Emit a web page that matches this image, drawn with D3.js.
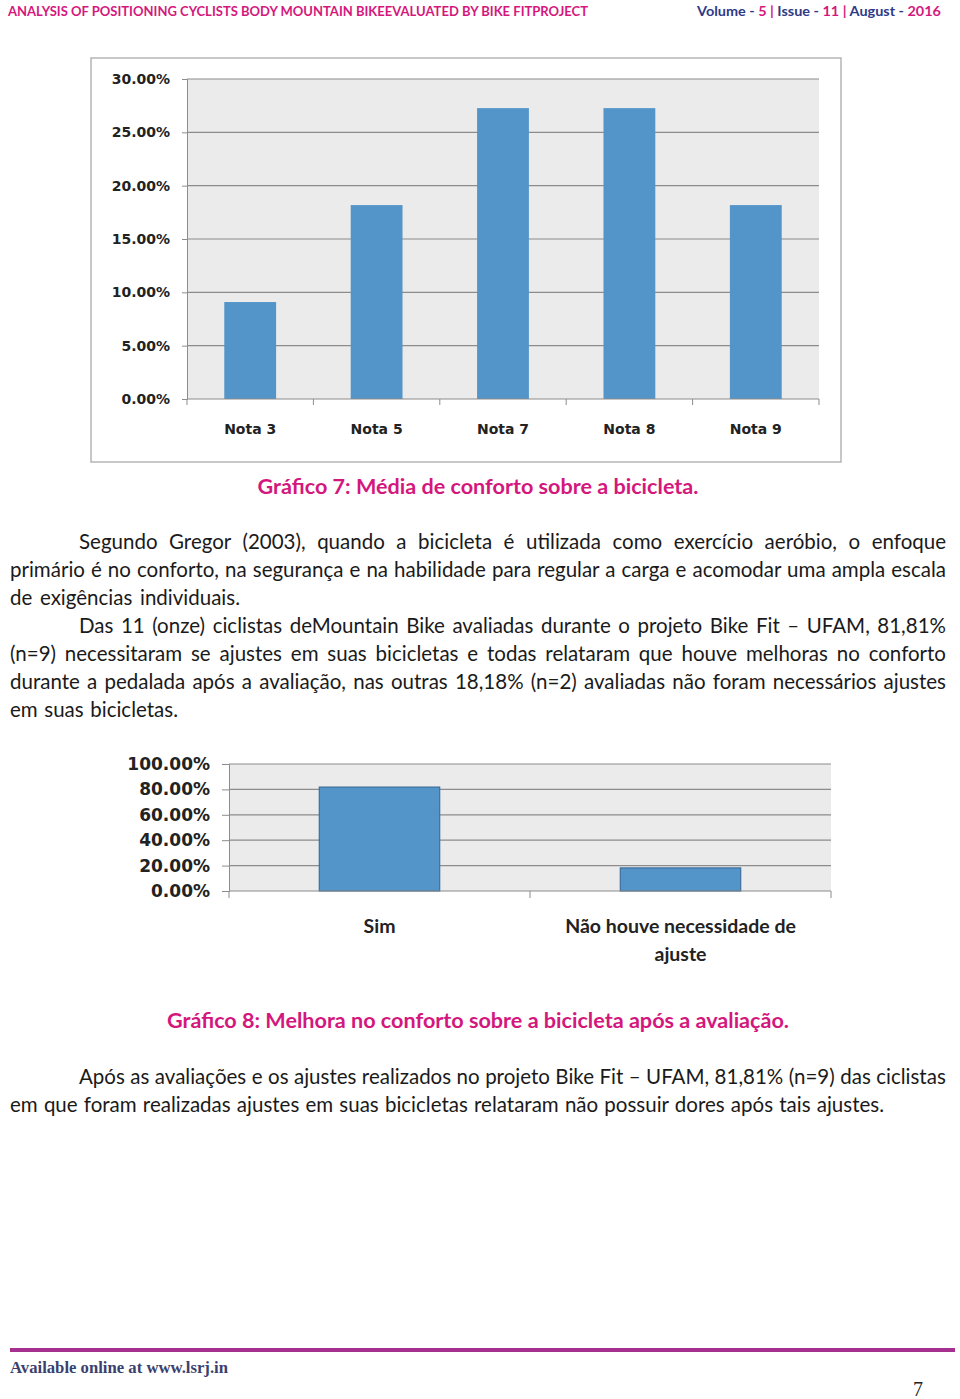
<!DOCTYPE html>
<html>
<head>
<meta charset="utf-8">
<script src="https://cdn.jsdelivr.net/npm/d3@7"></script>
<style>
  body { margin: 0; background: #fff; }
  svg { display: block; }
</style>
</head>
<body>
<svg width="960" height="1399"></svg>
<script>
// chart 7 data
const notaCats = ["Nota 3", "Nota 5", "Nota 7", "Nota 8", "Nota 9"]
const notaVals = [9.09, 18.18, 27.27, 27.27, 18.18]
const notaTicks = [0, 5, 10, 15, 20, 25, 30]

// chart 8 data
const ajusteCats = ["Sim", "Não houve necessidade de ajuste"]
const ajusteVals = [81.81, 18.18]
const ajusteTicks = [0, 20, 40, 60, 80, 100]

const para1 = [
  "Segundo Gregor (2003), quando a bicicleta é utilizada como exercício aeróbio, o enfoque",
  "primário é no conforto, na segurança e na habilidade para regular a carga e acomodar uma ampla escala",
  "de exigências individuais."
]
const para2 = [
  "Das 11 (onze) ciclistas deMountain Bike avaliadas durante o projeto Bike Fit – UFAM, 81,81%",
  "(n=9) necessitaram se ajustes em suas bicicletas e todas relataram que houve melhoras no conforto",
  "durante a pedalada após a avaliação, nas outras 18,18% (n=2) avaliadas não foram necessários ajustes",
  "em suas bicicletas."
]
const para3 = [
  "Após as avaliações e os ajustes realizados no projeto Bike Fit – UFAM,  81,81% (n=9) das ciclistas",
  "em que foram realizadas ajustes em suas bicicletas relataram não possuir dores após tais ajustes."
]

const magenta = "#d4177d"
const navy = "#2e3a87"
const barColor = "#5495c9"
const bodyFont = "Lato, 'Open Sans', sans-serif"
const tahoma = "'DejaVu Sans', Verdana, sans-serif"

var svg = d3.select('svg')
svg.append('rect').attr('width', 960).attr('height', 1399).attr('fill', '#fff')

// fit a text element to a given width
const fitText = (sel, target) => {
  const w = sel.node().getComputedTextLength()
  if (w > target) {
    sel.attr('textLength', target).attr('lengthAdjust', 'spacingAndGlyphs')
  } else {
    const spaces = (sel.text().match(/ /g) || []).length
    if (spaces) sel.attr('word-spacing', (target - w) / spaces)
  }
}

// header
svg.append('text')
  .attr('x', 8).attr('y', 16)
  .attr('font-family', bodyFont).attr('font-weight', 'bold').attr('font-size', 13)
  .attr('fill', magenta)
  .attr('textLength', 580).attr('lengthAdjust', 'spacingAndGlyphs')
  .text('ANALYSIS OF POSITIONING CYCLISTS BODY MOUNTAIN BIKEEVALUATED BY BIKE FITPROJECT')

const vol = svg.append('text')
  .attr('x', 697).attr('y', 16)
  .attr('font-family', bodyFont).attr('font-weight', 'bold').attr('font-size', 13)
  .attr('textLength', 244).attr('lengthAdjust', 'spacingAndGlyphs')
const volParts = [["Volume - ", navy], ["5", magenta], [" | ", magenta], ["Issue - ", navy], ["11", magenta],
  [" | ", magenta], ["August - ", navy], ["2016", magenta]]
volParts.forEach(p => vol.append('tspan').attr('fill', p[1]).text(p[0]))

// ---------- chart 7 ----------
svg.append('rect')
  .attr('x', 91).attr('y', 58).attr('width', 750).attr('height', 404)
  .attr('fill', '#fff').attr('stroke', '#b5b5b5').attr('stroke-width', 1.5)

const c1 = { left: 187, right: 819, top: 79, bottom: 399 }
const x1 = d3.scaleBand().domain(notaCats).range([c1.left, c1.right]).paddingInner(0.59).paddingOuter(0.295)
const y1 = d3.scaleLinear().domain([0, 30]).range([c1.bottom, c1.top])

const g1 = svg.append('g')
g1.append('rect')
  .attr('x', c1.left).attr('y', c1.top)
  .attr('width', c1.right - c1.left).attr('height', c1.bottom - c1.top)
  .attr('fill', '#ebebeb')

const yAxis1 = g1.append('g')
  .attr('transform', `translate(${c1.left},0)`)
  .call(d3.axisLeft(y1).tickValues(notaTicks).tickSize(5).tickPadding(12)
    .tickFormat(d => d.toFixed(2) + '%'))
yAxis1.select('.domain').attr('stroke', '#8c8c8c')
yAxis1.selectAll('.tick line').attr('stroke', '#8c8c8c')
yAxis1.selectAll('.tick text')
  .attr('font-family', tahoma).attr('font-weight', 'bold')
  .attr('font-size', 14).attr('fill', '#222')

g1.selectAll('line.grid')
  .data(notaTicks.filter(d => d > 0))
  .enter().append('line')
  .attr('class', 'grid')
  .attr('x1', c1.left).attr('x2', c1.right)
  .attr('y1', d => y1(d)).attr('y2', d => y1(d))
  .attr('stroke', '#8c8c8c').attr('stroke-width', 1.2)

g1.selectAll('rect.bar')
  .data(notaVals)
  .enter().append('rect')
  .attr('class', 'bar')
  .attr('x', (d, i) => x1(notaCats[i]))
  .attr('y', d => y1(d))
  .attr('width', x1.bandwidth())
  .attr('height', d => y1(0) - y1(d))
  .attr('fill', barColor)

g1.append('line')
  .attr('x1', c1.left).attr('x2', c1.right)
  .attr('y1', c1.bottom).attr('y2', c1.bottom)
  .attr('stroke', '#8c8c8c').attr('stroke-width', 1.2)

const edges1 = d3.range(notaCats.length + 1).map(i => c1.left + i * x1.step())
g1.selectAll('line.xtick')
  .data(edges1)
  .enter().append('line')
  .attr('x1', d => d).attr('x2', d => d)
  .attr('y1', c1.bottom).attr('y2', c1.bottom + 6)
  .attr('stroke', '#8c8c8c')

g1.selectAll('text.xlab')
  .data(notaCats)
  .enter().append('text')
  .attr('x', d => x1(d) + x1.bandwidth() / 2)
  .attr('y', 434)
  .attr('text-anchor', 'middle')
  .attr('font-family', tahoma).attr('font-weight', 'bold')
  .attr('font-size', 14).attr('fill', '#222')
  .text(d => d)

svg.append('text')
  .attr('x', 478).attr('y', 494)
  .attr('text-anchor', 'middle')
  .attr('font-family', bodyFont).attr('font-weight', 'bold').attr('font-size', 21.6)
  .attr('fill', magenta)
  .text('Gráfico 7: Média de conforto sobre a bicicleta.')

// ---------- body text ----------
const drawPara = (lines, yStart, ends) => {
  lines.forEach((line, i) => {
    const x0 = i === 0 ? 79 : 10
    const t = svg.append('text')
      .attr('x', x0)
      .attr('y', yStart + i * 28)
      .attr('font-family', bodyFont).attr('font-size', 20.5)
      .attr('fill', '#1a1a1a')
      .text(line)
    fitText(t, ends[i] - x0)
  })
}
drawPara(para1, 549, [946, 946, 240])
drawPara(para2, 633, [946, 946, 946, 178])

// ---------- chart 8 ----------
const c2 = { left: 229, right: 831, top: 764, bottom: 891 }
const x2 = d3.scaleBand().domain(ajusteCats).range([c2.left, c2.right]).paddingInner(0.6).paddingOuter(0.3)
const y2 = d3.scaleLinear().domain([0, 100]).range([c2.bottom, c2.top])

const g2 = svg.append('g')
g2.append('rect')
  .attr('x', c2.left).attr('y', c2.top)
  .attr('width', c2.right - c2.left).attr('height', c2.bottom - c2.top)
  .attr('fill', '#ebebeb')

const yAxis2 = g2.append('g')
  .attr('transform', `translate(${c2.left},0)`)
  .call(d3.axisLeft(y2).tickValues(ajusteTicks).tickSize(7).tickPadding(12)
    .tickFormat(d => d.toFixed(2) + '%'))
yAxis2.select('.domain').attr('stroke', '#8c8c8c')
yAxis2.selectAll('.tick line').attr('stroke', '#8c8c8c')
yAxis2.selectAll('.tick text')
  .attr('font-family', tahoma).attr('font-weight', 'bold')
  .attr('font-size', 17).attr('fill', '#222')

g2.selectAll('line.grid')
  .data(ajusteTicks.filter(d => d > 0))
  .enter().append('line')
  .attr('x1', c2.left).attr('x2', c2.right)
  .attr('y1', d => y2(d)).attr('y2', d => y2(d))
  .attr('stroke', '#8c8c8c').attr('stroke-width', 1.2)

g2.selectAll('rect.bar')
  .data(ajusteVals)
  .enter().append('rect')
  .attr('x', (d, i) => x2(ajusteCats[i]))
  .attr('y', d => y2(d))
  .attr('width', x2.bandwidth())
  .attr('height', d => y2(0) - y2(d))
  .attr('fill', barColor).attr('stroke', '#3d6e9c').attr('stroke-width', 1.2)

g2.append('line')
  .attr('x1', c2.left).attr('x2', c2.right)
  .attr('y1', c2.bottom).attr('y2', c2.bottom)
  .attr('stroke', '#8c8c8c').attr('stroke-width', 1.2)

const edges2 = d3.range(ajusteCats.length + 1).map(i => c2.left + i * x2.step())
g2.selectAll('line.xtick')
  .data(edges2)
  .enter().append('line')
  .attr('x1', d => d).attr('x2', d => d)
  .attr('y1', c2.bottom).attr('y2', c2.bottom + 7)
  .attr('stroke', '#8c8c8c')

const wrap = (text, width) => {
  text.each(function () {
    const t = d3.select(this)
    const words = t.text().split(' ')
    const x = t.attr('x')
    t.text(null)
    let line = []
    let tspan = t.append('tspan').attr('x', x).attr('dy', 0)
    words.forEach(w => {
      line.push(w)
      tspan.text(line.join(' '))
      if (tspan.node().getComputedTextLength() > width && line.length > 1) {
        line.pop()
        tspan.text(line.join(' '))
        line = [w]
        tspan = t.append('tspan').attr('x', x).attr('dy', 28).text(w)
      }
    })
  })
}

g2.selectAll('text.xlab')
  .data(ajusteCats)
  .enter().append('text')
  .attr('x', d => x2(d) + x2.bandwidth() / 2)
  .attr('y', 933)
  .attr('text-anchor', 'middle')
  .attr('font-family', bodyFont).attr('font-weight', 'bold').attr('font-size', 19.5).attr('fill', '#222')
  .text(d => d)
  .call(wrap, 260)

svg.append('text')
  .attr('x', 478).attr('y', 1028)
  .attr('text-anchor', 'middle')
  .attr('font-family', bodyFont).attr('font-weight', 'bold').attr('font-size', 21.6)
  .attr('fill', magenta)
  .text('Gráfico 8: Melhora no conforto sobre a bicicleta após a avaliação.')

drawPara(para3, 1084, [946, 884])

// ---------- footer ----------
svg.append('line')
  .attr('x1', 10).attr('x2', 955).attr('y1', 1350).attr('y2', 1350)
  .attr('stroke', '#a6308f').attr('stroke-width', 4)

svg.append('text')
  .attr('x', 10).attr('y', 1373)
  .attr('font-family', "'Liberation Serif', 'DejaVu Serif', serif").attr('font-weight', 'bold')
  .attr('font-size', 16).attr('fill', '#3b3f6e')
  .attr('textLength', 218).attr('lengthAdjust', 'spacingAndGlyphs')
  .text('Available online at www.lsrj.in')

svg.append('text')
  .attr('x', 918).attr('y', 1396)
  .attr('text-anchor', 'middle')
  .attr('font-family', "'Liberation Serif', 'DejaVu Serif', serif")
  .attr('font-size', 20).attr('fill', '#222')
  .text('7')
</script>
</body>
</html>
